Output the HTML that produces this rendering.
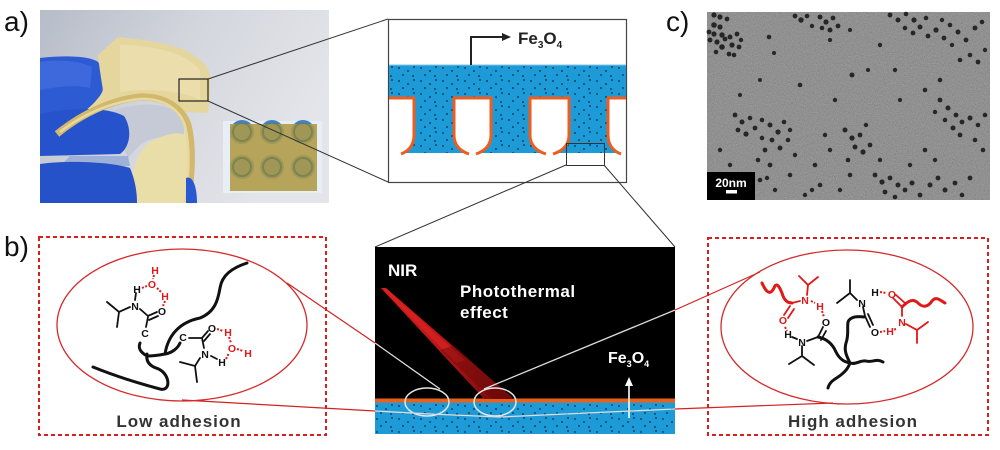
<!DOCTYPE html>
<html><head><meta charset="utf-8"><style>
html,body{margin:0;padding:0;background:#fff;}
svg{display:block;}
text{font-family:"Liberation Sans",Arial,sans-serif;}
.at{font-size:10.5px;font-weight:bold;text-anchor:middle;}
</style></head><body>
<svg width="1000" height="450" viewBox="0 0 1000 450" xmlns="http://www.w3.org/2000/svg">
<defs>
<pattern id="dots" width="22" height="13" patternUnits="userSpaceOnUse">
<rect width="22" height="13" fill="#1d9bd8"/>
<circle cx="3" cy="3" r="0.9" fill="#0a2a3a"/><circle cx="12" cy="6" r="0.9" fill="#0a2a3a"/>
<circle cx="18" cy="2" r="0.9" fill="#0a2a3a"/><circle cx="7" cy="10" r="0.9" fill="#0a2a3a"/>
<circle cx="17" cy="11" r="0.9" fill="#0a2a3a"/>
</pattern>
<linearGradient id="bg" x1="0" y1="0" x2="1" y2="0.4">
<stop offset="0" stop-color="#b6bcc8"/><stop offset="0.5" stop-color="#d3d6dd"/><stop offset="1" stop-color="#e4e5ea"/>
</linearGradient>
<linearGradient id="beam" x1="383" y1="288" x2="500" y2="400" gradientUnits="userSpaceOnUse">
<stop offset="0" stop-color="#d81c1c"/><stop offset="0.55" stop-color="#b31515"/><stop offset="1" stop-color="#7a0c0c"/>
</linearGradient>
<filter id="noise" x="0" y="0" width="100%" height="100%" color-interpolation-filters="sRGB">
<feTurbulence type="fractalNoise" baseFrequency="0.9" numOctaves="2" seed="4"/>
<feColorMatrix type="saturate" values="0"/>
<feComponentTransfer><feFuncA type="linear" slope="0.45"/></feComponentTransfer>
</filter>
</defs>

<text x="4" y="31" font-size="28" fill="#111">a)</text>
<text x="4" y="256" font-size="28" fill="#111">b)</text>
<text x="666" y="31" font-size="28" fill="#111">c)</text>

<!-- ===== Panel a photo ===== -->
<rect x="40" y="10" width="289" height="193" fill="url(#bg)"/>
<path d="M40,58 C65,55 90,56 98,62 C104,70 104,95 100,112 C96,122 90,127 80,128 L40,128 Z" fill="#2d5bd4"/>
<path d="M40,62 C60,59 80,61 92,67 L90,88 C75,84 55,87 40,90 Z" fill="#4a75e2" opacity="0.55"/>
<path d="M98,55 L118,37 C150,40 180,45 193,55 C205,62 211,70 210,80 C210,95 209,105 208,113 L183,112 C176,102 160,95 140,94 C115,96 90,110 57,133 C70,122 80,115 83,113 C92,105 100,98 103,90 C101,78 99,65 98,55 Z" fill="#e5d69d"/>
<path d="M120,45 C150,45 185,52 200,70 L200,100 C180,90 150,88 120,92 Z" fill="#eee3b6" opacity="0.6"/>
<path d="M100,116 C130,102 165,100 180,115 C185,125 185,132 182,140 C165,134 150,138 140,145 L128,158 C120,140 110,125 100,116 Z" fill="#c6cad6"/>
<path d="M40,114 C70,108 105,106 124,116 C132,128 131,146 120,154 L40,156 Z" fill="#2652cc"/>
<path d="M70,156 L128,156 L130,166 L60,166 Z" fill="#9fb0d8"/>
<path d="M130,203 C130,180 135,152 150,142 C165,134 180,130 188,137 L190,203 Z" fill="#e9dda8"/>
<path d="M57,134 C80,115 110,100 140,97 C165,96 182,108 188,125 C193,145 192,170 188,203" fill="none" stroke="#d1b86c" stroke-width="7"/>
<path d="M60,132 C82,115 110,102 140,99 C163,98 180,109 185,126 C190,145 189,170 186,203" fill="none" stroke="#e8d99e" stroke-width="2.5"/>
<path d="M40,164 C70,160 110,162 130,168 C136,182 137,195 137,203 L40,203 Z" fill="#2552c8"/>
<path d="M186,178 C192,175 197,185 197,203 L186,203 Z" fill="#2a58d2"/>
<rect x="179" y="79" width="29" height="22" fill="none" stroke="#222" stroke-width="1.2"/>
<rect x="223" y="121" width="99" height="72" fill="#e8eef6"/>
<g fill="#3c82cf">
<circle cx="242" cy="132" r="12"/><circle cx="272" cy="132" r="12"/><circle cx="303" cy="132" r="12"/>
<circle cx="242" cy="167" r="12"/><circle cx="272" cy="167" r="12"/><circle cx="303" cy="167" r="12"/>
</g>
<rect x="230" y="124" width="87" height="67" fill="#ae9a45" opacity="0.88"/>
<g fill="none" stroke="#6d7c4e" stroke-width="2" opacity="0.7">
<circle cx="242" cy="132" r="9"/><circle cx="272" cy="132" r="9"/><circle cx="303" cy="132" r="9"/>
<circle cx="242" cy="167" r="9"/><circle cx="272" cy="167" r="9"/><circle cx="303" cy="167" r="9"/>
</g>

<line x1="208" y1="79" x2="388" y2="19" stroke="#333" stroke-width="1"/>
<line x1="208" y1="101" x2="388" y2="182" stroke="#333" stroke-width="1"/>

<!-- ===== Schematic top ===== -->
<rect x="388.5" y="19.5" width="238" height="163" fill="#fff" stroke="#444" stroke-width="1.2"/>
<rect x="389" y="65" width="237" height="33" fill="url(#dots)"/>
<path d="M414,97 V135 Q414,149 401,153 H469 Q454,149 454,135 V97 Z" fill="url(#dots)"/>
<path d="M491,97 V135 Q491,149 476,153 H546 Q530,149 530,135 V97 Z" fill="url(#dots)"/>
<path d="M569,97 V135 Q569,149 553,153 H621 Q608,149 608,135 V97 Z" fill="url(#dots)"/>
<path d="M389,98 H414 V135 Q414,149 401,154 M469,154 Q454,149 454,135 V98 H491 V135 Q491,149 476,154 M546,154 Q530,149 530,135 V98 H569 V135 Q569,149 553,154 M621,154 Q608,149 608,135 V98 H626" fill="none" stroke="#ef5d1e" stroke-width="3" stroke-linejoin="round"/>
<line x1="389" y1="65" x2="626" y2="65" stroke="#7fc5ea" stroke-width="1"/>
<polyline points="471,65 471,37 503,37" fill="none" stroke="#222" stroke-width="2"/>
<polygon points="502,33 511,37 502,41" fill="#222"/>
<text x="518" y="44" font-size="17" font-weight="bold" fill="#222">Fe<tspan font-size="10" dy="4">3</tspan><tspan dy="-4">O</tspan><tspan font-size="10" dy="4">4</tspan></text>
<rect x="566.5" y="143.5" width="38" height="22" fill="none" stroke="#333" stroke-width="1"/>
<line x1="566" y1="165" x2="375" y2="247" stroke="#333" stroke-width="1"/>
<line x1="604" y1="165" x2="675" y2="247" stroke="#333" stroke-width="1"/>

<!-- ===== TEM ===== -->
<rect x="707" y="12" width="283" height="188" fill="#959595"/>
<rect x="707" y="12" width="283" height="188" filter="url(#noise)"/>
<g fill="#262626">
<circle cx="714" cy="15" r="2.6"/><circle cx="720" cy="17" r="2.6"/><circle cx="727" cy="19" r="2.4"/><circle cx="714" cy="25" r="2.8"/><circle cx="720" cy="27" r="2.6"/><circle cx="709" cy="32" r="2.4"/><circle cx="714" cy="34" r="2.6"/><circle cx="722" cy="35" r="2.7"/><circle cx="730" cy="37" r="2.5"/><circle cx="737" cy="34" r="2.4"/><circle cx="710" cy="40" r="2.5"/><circle cx="717" cy="42" r="2.6"/><circle cx="725" cy="39" r="2.4"/><circle cx="732" cy="45" r="2.6"/><circle cx="739" cy="47" r="2.4"/><circle cx="722" cy="47" r="2.8"/><circle cx="729" cy="54" r="2.4"/><circle cx="734" cy="55" r="2.3"/><circle cx="716" cy="52" r="2.3"/><circle cx="741" cy="40" r="2.2"/>
<circle cx="795" cy="16" r="2.4"/><circle cx="801" cy="20" r="2.7"/><circle cx="807" cy="16" r="2.3"/><circle cx="820" cy="17" r="2.5"/><circle cx="826" cy="22" r="2.6"/><circle cx="833" cy="18" r="2.4"/><circle cx="822" cy="28" r="2.3"/><circle cx="830" cy="30" r="2.5"/><circle cx="838" cy="26" r="2.4"/><circle cx="812" cy="26" r="2.2"/>
<circle cx="890" cy="15" r="2.4"/><circle cx="898" cy="20" r="2.5"/><circle cx="906" cy="14" r="2.3"/><circle cx="914" cy="20" r="2.6"/><circle cx="905" cy="28" r="2.3"/><circle cx="913" cy="33" r="2.4"/><circle cx="920" cy="27" r="2.5"/><circle cx="928" cy="36" r="2.4"/><circle cx="936" cy="30" r="2.6"/><circle cx="944" cy="38" r="2.4"/><circle cx="950" cy="25" r="2.3"/><circle cx="958" cy="32" r="2.5"/><circle cx="966" cy="40" r="2.4"/><circle cx="975" cy="28" r="2.5"/><circle cx="982" cy="22" r="2.3"/><circle cx="970" cy="55" r="2.3"/><circle cx="978" cy="62" r="2.4"/><circle cx="985" cy="50" r="2.2"/><circle cx="960" cy="60" r="2.3"/><circle cx="952" cy="45" r="2.2"/><circle cx="926" cy="18" r="2.3"/><circle cx="942" cy="20" r="2.2"/>
<circle cx="769" cy="37" r="2.3"/><circle cx="774" cy="53" r="2"/><circle cx="830" cy="40" r="2.1"/><circle cx="850" cy="30" r="2"/><circle cx="880" cy="45" r="2.2"/><circle cx="852" cy="75" r="2.5"/><circle cx="868" cy="70" r="2"/><circle cx="895" cy="70" r="2.2"/><circle cx="940" cy="80" r="2.3"/><circle cx="760" cy="80" r="2"/><circle cx="800" cy="85" r="2.3"/><circle cx="740" cy="95" r="2"/><circle cx="835" cy="100" r="2.2"/><circle cx="900" cy="100" r="2.1"/><circle cx="925" cy="90" r="2.3"/>
<circle cx="735" cy="115" r="2.4"/><circle cx="742" cy="122" r="2.5"/><circle cx="750" cy="118" r="2.3"/><circle cx="738" cy="130" r="2.4"/><circle cx="746" cy="134" r="2.6"/><circle cx="755" cy="128" r="2.4"/><circle cx="762" cy="120" r="2.3"/><circle cx="770" cy="125" r="2.5"/><circle cx="778" cy="132" r="2.6"/><circle cx="772" cy="140" r="2.4"/><circle cx="780" cy="148" r="2.5"/><circle cx="788" cy="140" r="2.3"/><circle cx="765" cy="150" r="2.4"/><circle cx="758" cy="160" r="2.3"/><circle cx="770" cy="165" r="2.4"/><circle cx="795" cy="155" r="2.2"/><circle cx="790" cy="130" r="2.2"/><circle cx="784" cy="122" r="2.3"/><circle cx="762" cy="138" r="2.3"/>
<circle cx="845" cy="130" r="2.5"/><circle cx="852" cy="138" r="2.6"/><circle cx="860" cy="135" r="2.4"/><circle cx="855" cy="147" r="2.5"/><circle cx="863" cy="152" r="2.6"/><circle cx="870" cy="145" r="2.4"/><circle cx="848" cy="160" r="2.3"/><circle cx="825" cy="135" r="2.2"/><circle cx="830" cy="150" r="2.2"/><circle cx="815" cy="165" r="2.3"/><circle cx="866" cy="125" r="2.2"/>
<circle cx="940" cy="100" r="2.4"/><circle cx="948" cy="108" r="2.5"/><circle cx="956" cy="115" r="2.4"/><circle cx="945" cy="120" r="2.3"/><circle cx="953" cy="128" r="2.5"/><circle cx="962" cy="122" r="2.4"/><circle cx="970" cy="118" r="2.5"/><circle cx="978" cy="125" r="2.3"/><circle cx="985" cy="115" r="2.3"/><circle cx="960" cy="135" r="2.4"/><circle cx="975" cy="140" r="2.3"/><circle cx="983" cy="150" r="2.3"/><circle cx="935" cy="112" r="2.2"/>
<circle cx="875" cy="175" r="2.4"/><circle cx="882" cy="182" r="2.6"/><circle cx="890" cy="178" r="2.4"/><circle cx="898" cy="185" r="2.5"/><circle cx="905" cy="190" r="2.4"/><circle cx="912" cy="183" r="2.5"/><circle cx="885" cy="192" r="2.4"/><circle cx="895" cy="197" r="2.3"/><circle cx="920" cy="195" r="2.4"/><circle cx="930" cy="185" r="2.5"/><circle cx="938" cy="178" r="2.4"/><circle cx="945" cy="190" r="2.5"/><circle cx="955" cy="183" r="2.4"/><circle cx="962" cy="195" r="2.3"/><circle cx="970" cy="178" r="2.4"/><circle cx="880" cy="160" r="2.2"/><circle cx="910" cy="165" r="2.2"/><circle cx="925" cy="150" r="2.3"/><circle cx="935" cy="160" r="2.2"/>
<circle cx="720" cy="150" r="2.2"/><circle cx="730" cy="165" r="2.2"/><circle cx="760" cy="180" r="2.3"/><circle cx="775" cy="190" r="2.2"/><circle cx="790" cy="175" r="2.3"/><circle cx="805" cy="195" r="2.2"/><circle cx="820" cy="185" r="2.3"/><circle cx="840" cy="190" r="2.2"/><circle cx="850" cy="175" r="2.3"/><circle cx="767" cy="178" r="2.2"/><circle cx="812" cy="190" r="2.2"/>
</g>
<rect x="707" y="172" width="48" height="28" fill="#000"/>
<text x="731" y="187" font-size="12" font-weight="bold" fill="#fff" text-anchor="middle">20nm</text>
<rect x="726" y="190" width="11" height="3.5" fill="#fff"/>

<!-- ===== Bottom middle black panel ===== -->
<rect x="375" y="247" width="300" height="187" fill="#000"/>
<rect x="375" y="398.5" width="300" height="4" fill="#e8621e"/>
<rect x="375" y="402.5" width="300" height="31.5" fill="url(#dots)"/>
<polygon points="381,288 386,288 514,399 484,399" fill="url(#beam)"/>
<polygon points="383,289 386,289 465,360 456,363" fill="#e02424" opacity="0.6"/>
<polygon points="440,350 455,345 512,399 492,399" fill="#5c0808" opacity="0.4"/>
<text x="388" y="276" font-size="17" font-weight="bold" fill="#fff">NIR</text>
<text x="460" y="297" font-size="17" font-weight="bold" fill="#fff" letter-spacing="0.5">Photothermal</text>
<text x="460" y="318" font-size="17" font-weight="bold" fill="#fff" letter-spacing="0.5">effect</text>
<text x="608" y="363" font-size="16" font-weight="bold" fill="#fff">Fe<tspan font-size="9" dy="4">3</tspan><tspan dy="-4">O</tspan><tspan font-size="9" dy="4">4</tspan></text>
<line x1="629" y1="418" x2="629" y2="384" stroke="#fff" stroke-width="1.6"/>
<polygon points="625,386 629,377 633,386" fill="#fff"/>
<ellipse cx="427" cy="402" rx="22" ry="14" fill="none" stroke="#e6e6e6" stroke-width="1.5"/>
<ellipse cx="495" cy="402" rx="21" ry="14" fill="none" stroke="#e6e6e6" stroke-width="1.5"/>
<line x1="375" y1="343" x2="440" y2="389" stroke="#ddd" stroke-width="1.3"/>
<polyline points="375,411 430,414 500,417 675,409" fill="none" stroke="#ddd" stroke-width="1.3"/>
<line x1="484" y1="389" x2="675" y2="310" stroke="#ddd" stroke-width="1.3"/>

<line x1="287" y1="283" x2="375" y2="343" stroke="#d42222" stroke-width="1.2"/>
<line x1="182" y1="400" x2="375" y2="411" stroke="#d42222" stroke-width="1.2"/>
<line x1="675" y1="310" x2="760" y2="272" stroke="#d42222" stroke-width="1.2"/>
<line x1="675" y1="409" x2="833" y2="403" stroke="#d42222" stroke-width="1.2"/>

<!-- ===== Left box ===== -->
<rect x="39" y="237" width="287" height="198" fill="none" stroke="#d62020" stroke-width="2" stroke-dasharray="4,3"/>
<ellipse cx="182" cy="325" rx="125" ry="76" fill="none" stroke="#d42a2a" stroke-width="1.3"/>
<text x="179" y="427" font-size="17" font-weight="bold" fill="#333" text-anchor="middle" letter-spacing="1">Low adhesion</text>
<g fill="none" stroke="#111" stroke-width="3" stroke-linecap="round">
<path d="M93,367 C120,378 145,385 160,389 C172,392 170,372 156,368 C148,365 146,360 147,354"/>
<path d="M147,356 C140,352 138,348 140,343"/>
<path d="M147,356 C155,356 160,355 165,354 C168,335 180,322 200,318 C215,312 218,300 220,288 C222,275 232,268 247,263"/>
<path d="M165,354 C172,353 178,348 180,343"/>
</g>
<g fill="none" stroke="#111" stroke-width="1.8" stroke-linecap="round">
<path d="M107,302 L119,312 L130,307 M119,312 L117,327"/>
<path d="M136,293 L135,300"/>
<path d="M140,309 L148,316 L157,312 M149,320 L158,316"/>
<path d="M148,317 L146,327"/>
<path d="M189,338 L202,338 L208,331 M204,341 L210,334"/>
<path d="M202,338 L204,348"/>
<path d="M200,358 L195,366 L180,362 M195,366 L197,382"/>
<path d="M211,356 L217,359"/>
</g>
<g fill="#111">
<text class="at" x="137" y="293">H</text><text class="at" x="135" y="310">N</text><text class="at" x="162" y="315">O</text>
<text class="at" x="145" y="337">C</text><text class="at" x="183" y="341">C</text><text class="at" x="212" y="332">O</text>
<text class="at" x="205" y="358">N</text><text class="at" x="222" y="366">H</text>
</g>
<g fill="#e01818">
<text class="at" x="155" y="274">H</text><text class="at" x="152" y="288">O</text><text class="at" x="165" y="300">H</text>
<text class="at" x="228" y="336">H</text><text class="at" x="232" y="352">O</text><text class="at" x="248" y="357">H</text>
</g>
<g stroke="#e01818" stroke-width="2" stroke-dasharray="2,1.5" fill="none">
<path d="M154,275 L153,279"/><path d="M157,288 L161,292"/><path d="M142,288 L147,286"/>
<path d="M165,301 L163,306"/><path d="M217,329 L223,331"/><path d="M229,337 L231,343"/>
<path d="M237,349 L243,351"/><path d="M226,359 L229,353"/>
</g>

<!-- ===== Right box ===== -->
<rect x="708" y="238" width="280" height="197" fill="none" stroke="#d62020" stroke-width="2" stroke-dasharray="4,3"/>
<ellipse cx="847" cy="327" rx="126" ry="77" fill="none" stroke="#d42a2a" stroke-width="1.3"/>
<text x="853" y="427" font-size="17" font-weight="bold" fill="#333" text-anchor="middle" letter-spacing="1">High adhesion</text>
<g fill="none" stroke="#111" stroke-width="3" stroke-linecap="round">
<path d="M828,388 C830,380 838,378 842,374 C847,370 849,366 850,363"/>
<path d="M818,337 C828,339 833,345 836,352 C840,360 845,362 850,363"/>
<path d="M850,363 C846,355 844,350 846,343 C849,335 847,328 848,322 C850,317 856,316 864,317"/>
<path d="M850,363 C856,365 860,360 866,361 C872,363 876,358 883,362"/>
</g>
<g fill="none" stroke="#111" stroke-width="1.8" stroke-linecap="round">
<path d="M792,337 L797,339"/>
<path d="M802,346 L802,356 L789,364 M802,356 L814,365"/>
<path d="M807,341 L818,337 L823,327 M821,340 L826,331"/>
<path d="M837,303 L850,293 L857,300 M850,293 L850,280"/>
<path d="M863,307 L865,316 L870,327 M868,314 L873,325"/>
</g>
<g fill="#111">
<text class="at" x="788" y="338">H</text><text class="at" x="802" y="346">N</text><text class="at" x="826" y="326">O</text>
<text class="at" x="862" y="307">N</text><text class="at" x="875" y="296">H</text><text class="at" x="875" y="336">O</text>
</g>
<g fill="none" stroke="#e01818" stroke-width="3" stroke-linecap="round">
<path d="M762,283 C766,292 770,296 774,288 C777,280 781,290 783,296 C785,301 788,303 792,303"/>
<path d="M902,307 C908,301 913,298 918,303 C923,308 928,307 932,301 C936,296 940,300 945,303"/>
</g>
<g fill="none" stroke="#e01818" stroke-width="1.8" stroke-linecap="round">
<path d="M792,303 L800,301"/>
<path d="M807,295 L808,285 L799,276 M808,285 L818,277"/>
<path d="M790,306 L784,315 M794,309 L788,318"/>
<path d="M902,307 L893,298 M905,303 L896,295"/>
<path d="M902,307 L902,316"/>
<path d="M906,324 L917,330 L928,322 M917,330 L917,343"/>
</g>
<g fill="#e01818">
<text class="at" x="805" y="304">N</text><text class="at" x="820" y="310">H</text><text class="at" x="783" y="324">O</text>
<text class="at" x="892" y="298">O</text><text class="at" x="902" y="326">N</text><text class="at" x="890" y="335">H</text>
</g>
<g stroke="#e01818" stroke-width="2" stroke-dasharray="2,1.5" fill="none">
<path d="M811,301 L815,303"/><path d="M822,311 L824,317"/><path d="M785,327 L787,331"/>
<path d="M880,292 L886,293"/><path d="M880,332 L885,331"/><path d="M896,329 L893,330"/>
</g>
</svg>
</body></html>
